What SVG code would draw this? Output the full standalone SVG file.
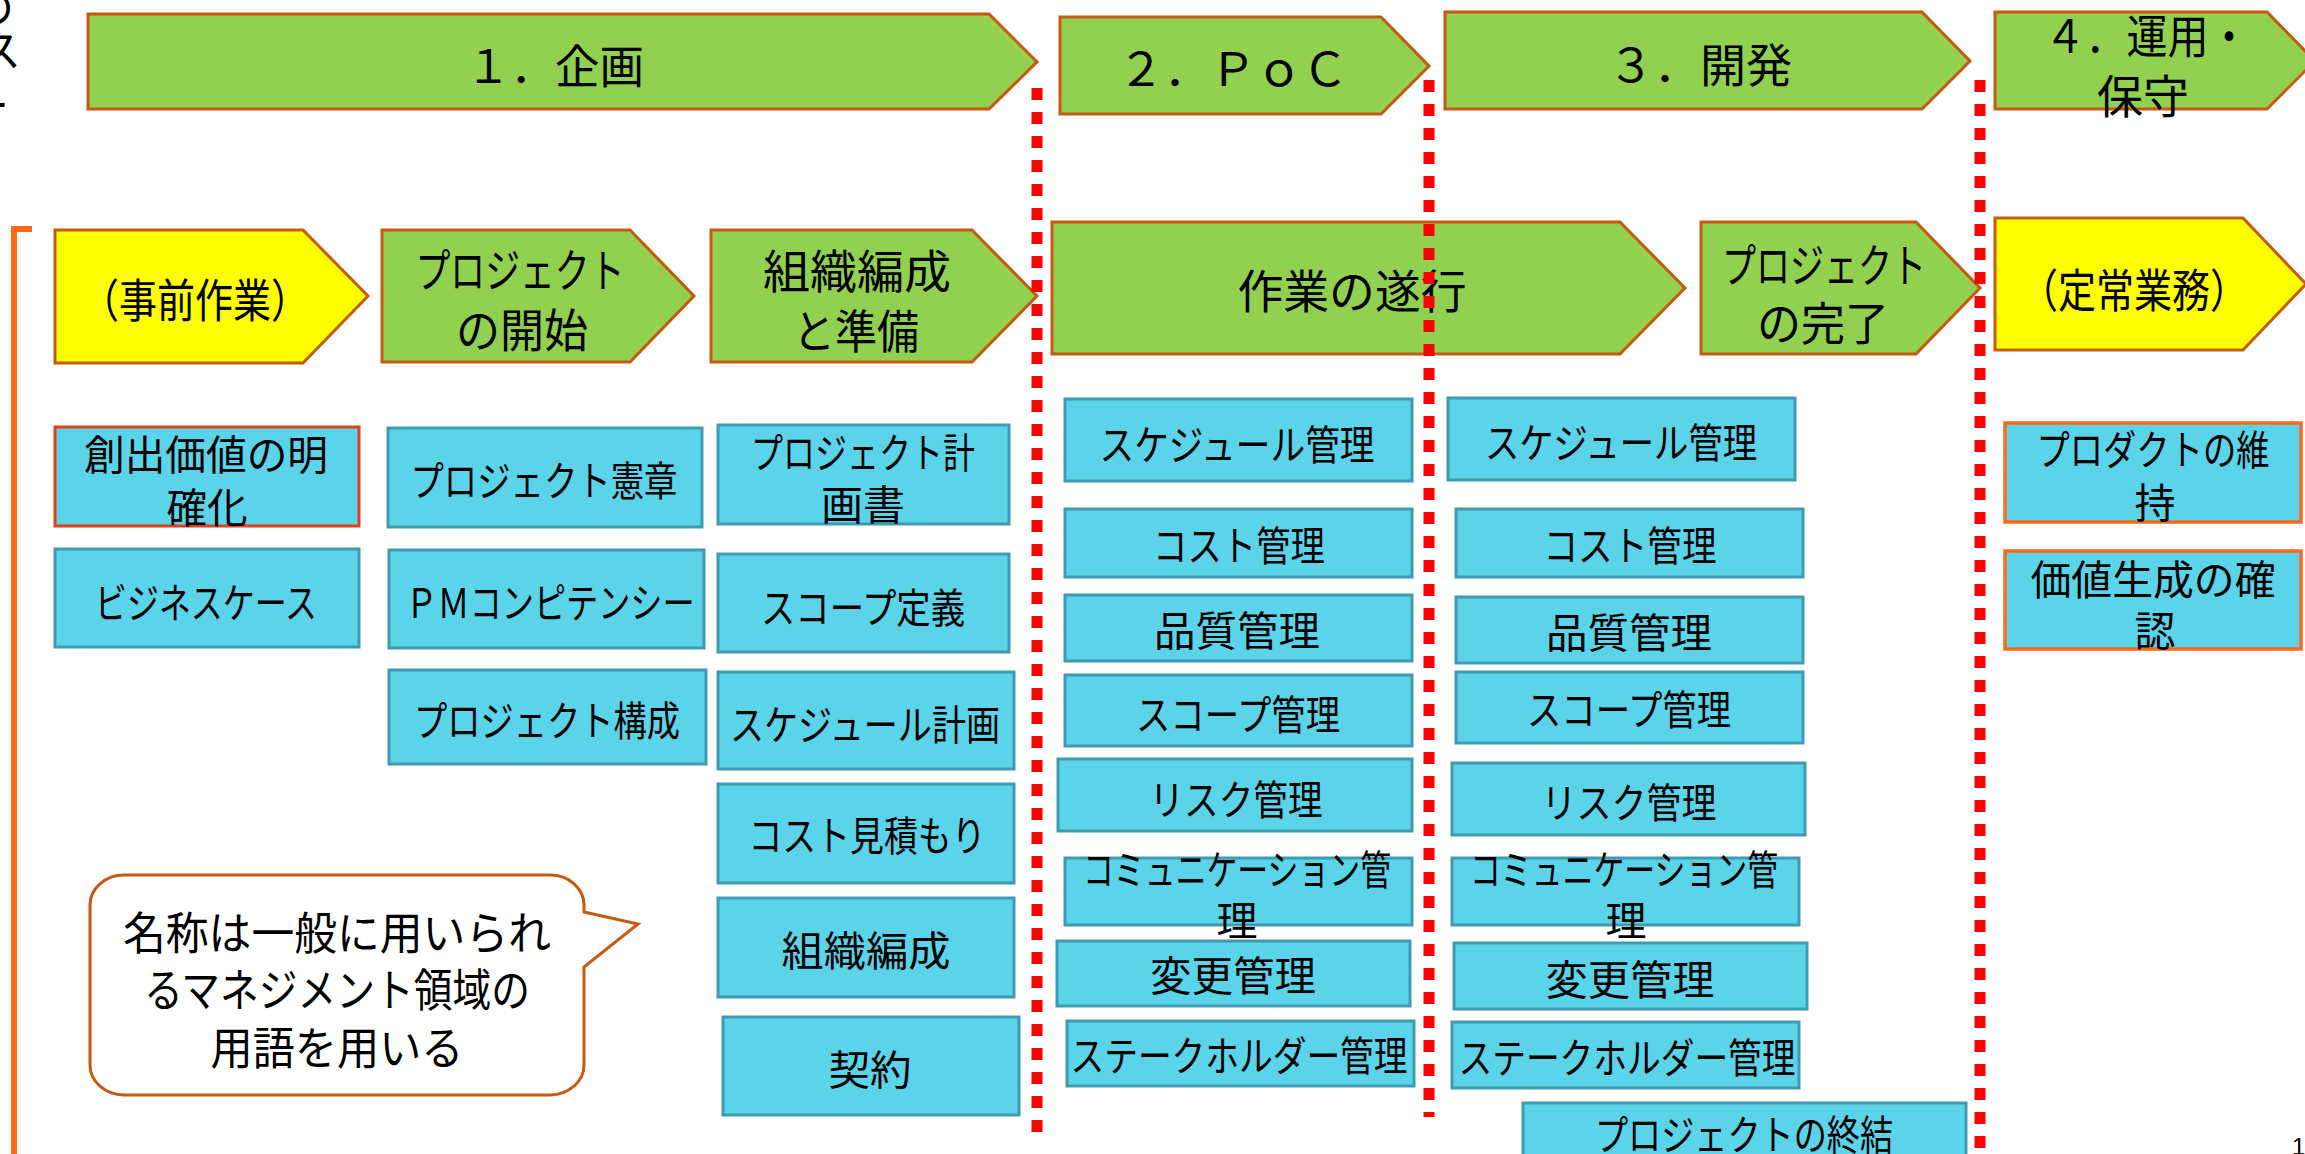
<svg xmlns="http://www.w3.org/2000/svg" width="2305" height="1154" viewBox="0 0 2305 1154">
<style>
.t{font-family:"Noto Sans CJK JP","Noto Sans CJK SC",sans-serif;fill:#000;text-anchor:middle;dominant-baseline:central;}
.big{font-size:46px;}
.bx{font-size:41px;}
.co{font-size:45px;}
.ga{fill:#92D050;stroke:#C55A11;stroke-width:3;}
.ya{fill:#FFFF00;stroke:#C55A11;stroke-width:3;}
.bb{fill:#5BD3E9;stroke:#3E9BB0;stroke-width:3;}
.ob{fill:#5BD3E9;stroke:#FF6A1A;stroke-width:3.5;}
.rb{fill:#5BD3E9;stroke:#E0401C;stroke-width:3;}
.div{stroke:#FF0000;stroke-width:11;stroke-dasharray:12 12;fill:none;}
</style>
<rect width="2305" height="1154" fill="#FFFFFF"/>

<g id="edge-text" class="t" style="font-size:44px;text-anchor:end">
<text x="14" y="5">の</text>
<text x="21" y="48">ス</text>
<text x="9" y="103">ー</text>
</g>
<text id="page-number" x="2292" y="1155" style="font-family:'Liberation Sans',Arial,sans-serif;font-size:24px;fill:#000">19</text>

<path id="bracket" d="M32,229 H14 V1160" fill="none" stroke="#FF6A13" stroke-width="6"/>

<g id="phase-1">
<polygon class="ga" points="88,14 989,14 1037,62 989,109 88,109"/>
<text class="t big" x="555" y="63" textLength="178" lengthAdjust="spacingAndGlyphs">１．企画</text>
</g>
<g id="phase-2">
<polygon class="ga" points="1060,17 1381,17 1429,66 1381,114 1060,114"/>
<text class="t big" x="1233" y="66">２．ＰｏＣ</text>
</g>
<g id="phase-3">
<polygon class="ga" points="1445,12 1922,12 1970,61 1922,109 1445,109"/>
<text class="t big" x="1700" y="62">３．開発</text>
</g>
<g id="phase-4">
<polygon class="ga" points="1995,12 2267,12 2315,61 2267,109 1995,109"/>
<text class="t big" x="2147" y="33" textLength="205" lengthAdjust="spacingAndGlyphs">４．運用・</text>
<text class="t big" x="2143" y="93">保守</text>
</g>

<g id="step-pre">
<polygon class="ya" points="55,230 303,230 368,296 303,363 55,363"/>
<text class="t big" x="195" y="297" textLength="228" lengthAdjust="spacingAndGlyphs">（事前作業）</text>
</g>
<g id="step-start">
<polygon class="ga" points="382,230 630,230 694,296 630,362 382,362"/>
<text class="t big" x="520" y="267" textLength="209" lengthAdjust="spacingAndGlyphs">プロジェクト</text>
<text class="t big" x="522" y="327" textLength="132" lengthAdjust="spacingAndGlyphs">の開始</text>
</g>
<g id="step-org">
<polygon class="ga" points="711,230 972,230 1037,296 972,362 711,362"/>
<text class="t big" x="857" y="268" textLength="188" lengthAdjust="spacingAndGlyphs">組織編成</text>
<text class="t big" x="856" y="328" textLength="126" lengthAdjust="spacingAndGlyphs">と準備</text>
</g>
<g id="step-exec">
<polygon class="ga" points="1052,222 1620,222 1685,288 1620,354 1052,354"/>
<text class="t big" x="1352" y="288" textLength="229" lengthAdjust="spacingAndGlyphs">作業の遂行</text>
</g>
<g id="step-close">
<polygon class="ga" points="1701,222 1916,222 1980,288 1916,354 1701,354"/>
<text class="t big" x="1824" y="262" textLength="204" lengthAdjust="spacingAndGlyphs">プロジェクト</text>
<text class="t big" x="1823" y="320" textLength="132" lengthAdjust="spacingAndGlyphs">の完了</text>
</g>
<g id="step-ops">
<polygon class="ya" points="1995,218 2243,218 2306,284 2243,350 1995,350"/>
<text class="t big" x="2134" y="287" textLength="228" lengthAdjust="spacingAndGlyphs">（定常業務）</text>
</g>

<g id="box-value">
<rect class="rb" x="55" y="427" width="304" height="99"/>
<text class="t bx" x="206" y="452" textLength="244" lengthAdjust="spacingAndGlyphs">創出価値の明</text>
<text class="t bx" x="207" y="505" textLength="81" lengthAdjust="spacingAndGlyphs">確化</text>
</g>
<g id="box-bizcase">
<rect class="bb" x="55" y="549" width="304" height="98"/>
<text class="t bx" x="206" y="600" textLength="222" lengthAdjust="spacingAndGlyphs">ビジネスケース</text>
</g>
<g id="box-charter">
<rect class="bb" x="388" y="428" width="314" height="99"/>
<text class="t bx" x="544" y="478" textLength="267" lengthAdjust="spacingAndGlyphs">プロジェクト憲章</text>
</g>
<g id="box-pmcomp">
<rect class="bb" x="389" y="550" width="315" height="98"/>
<text class="t bx" x="550" y="600" textLength="289" lengthAdjust="spacingAndGlyphs">ＰＭコンピテンシー</text>
</g>
<g id="box-structure">
<rect class="bb" x="389" y="670" width="317" height="94"/>
<text class="t bx" x="547" y="718" textLength="266" lengthAdjust="spacingAndGlyphs">プロジェクト構成</text>
</g>
<g id="box-plan">
<rect class="bb" x="718" y="425" width="291" height="99"/>
<text class="t bx" x="863" y="450" textLength="224" lengthAdjust="spacingAndGlyphs">プロジェクト計</text>
<text class="t bx" x="863" y="502" textLength="84" lengthAdjust="spacingAndGlyphs">画書</text>
</g>
<g id="box-scope-def">
<rect class="bb" x="718" y="554" width="291" height="98"/>
<text class="t bx" x="863" y="605" textLength="204" lengthAdjust="spacingAndGlyphs">スコープ定義</text>
</g>
<g id="box-sched-plan">
<rect class="bb" x="718" y="672" width="296" height="97"/>
<text class="t bx" x="865" y="722" textLength="270" lengthAdjust="spacingAndGlyphs">スケジュール計画</text>
</g>
<g id="box-cost-est">
<rect class="bb" x="718" y="784" width="296" height="99"/>
<text class="t bx" x="867" y="833" textLength="237" lengthAdjust="spacingAndGlyphs">コスト見積もり</text>
</g>
<g id="box-org">
<rect class="bb" x="718" y="898" width="296" height="99"/>
<text class="t bx" x="866" y="948" textLength="169" lengthAdjust="spacingAndGlyphs">組織編成</text>
</g>
<g id="box-contract">
<rect class="bb" x="723" y="1017" width="296" height="98"/>
<text class="t bx" x="870" y="1067" textLength="83" lengthAdjust="spacingAndGlyphs">契約</text>
</g>

<g id="callout">
<path d="M124,875 H550 A34,30 0 0 1 584,905 V912 L638,924 L584,967 V1065 A34,30 0 0 1 550,1095 H124 A34,30 0 0 1 90,1065 V905 A34,30 0 0 1 124,875 Z" fill="#FFFFFF" stroke="#C55A11" stroke-width="3"/>
<text class="t co" x="337" y="930" textLength="428" lengthAdjust="spacingAndGlyphs">名称は一般に用いられ</text>
<text class="t co" x="337" y="987" textLength="386" lengthAdjust="spacingAndGlyphs">るマネジメント領域の</text>
<text class="t co" x="337" y="1045" textLength="253" lengthAdjust="spacingAndGlyphs">用語を用いる</text>
</g>

<g id="poc-sched">
<rect class="bb" x="1065" y="399" width="347" height="82"/>
<text class="t bx" x="1237" y="442" textLength="275" lengthAdjust="spacingAndGlyphs">スケジュール管理</text>
</g>
<g id="poc-cost">
<rect class="bb" x="1065" y="509" width="347" height="68"/>
<text class="t bx" x="1239" y="543" textLength="172" lengthAdjust="spacingAndGlyphs">コスト管理</text>
</g>
<g id="poc-quality">
<rect class="bb" x="1065" y="595" width="347" height="66"/>
<text class="t bx" x="1237" y="628" textLength="166" lengthAdjust="spacingAndGlyphs">品質管理</text>
</g>
<g id="poc-scope">
<rect class="bb" x="1065" y="675" width="347" height="71"/>
<text class="t bx" x="1238" y="712" textLength="204" lengthAdjust="spacingAndGlyphs">スコープ管理</text>
</g>
<g id="poc-risk">
<rect class="bb" x="1058" y="759" width="354" height="72"/>
<text class="t bx" x="1236" y="797" textLength="173" lengthAdjust="spacingAndGlyphs">リスク管理</text>
</g>
<g id="poc-comm">
<rect class="bb" x="1065" y="858" width="347" height="67"/>
<text class="t bx" x="1237" y="867" textLength="308" lengthAdjust="spacingAndGlyphs">コミュニケーション管</text>
<text class="t bx" x="1237" y="918">理</text>
</g>
<g id="poc-change">
<rect class="bb" x="1057" y="941" width="353" height="65"/>
<text class="t bx" x="1233" y="973" textLength="166" lengthAdjust="spacingAndGlyphs">変更管理</text>
</g>
<g id="poc-stake">
<rect class="bb" x="1067" y="1021" width="347" height="65"/>
<text class="t bx" x="1239" y="1053" textLength="337" lengthAdjust="spacingAndGlyphs">ステークホルダー管理</text>
</g>

<g id="dev-sched">
<rect class="bb" x="1448" y="398" width="347" height="82"/>
<text class="t bx" x="1621" y="440" textLength="272" lengthAdjust="spacingAndGlyphs">スケジュール管理</text>
</g>
<g id="dev-cost">
<rect class="bb" x="1456" y="509" width="347" height="68"/>
<text class="t bx" x="1630" y="543" textLength="173" lengthAdjust="spacingAndGlyphs">コスト管理</text>
</g>
<g id="dev-quality">
<rect class="bb" x="1456" y="597" width="347" height="66"/>
<text class="t bx" x="1629" y="630" textLength="166" lengthAdjust="spacingAndGlyphs">品質管理</text>
</g>
<g id="dev-scope">
<rect class="bb" x="1456" y="672" width="347" height="71"/>
<text class="t bx" x="1629" y="707" textLength="204" lengthAdjust="spacingAndGlyphs">スコープ管理</text>
</g>
<g id="dev-risk">
<rect class="bb" x="1452" y="763" width="353" height="72"/>
<text class="t bx" x="1629" y="800" textLength="175" lengthAdjust="spacingAndGlyphs">リスク管理</text>
</g>
<g id="dev-comm">
<rect class="bb" x="1452" y="858" width="347" height="67"/>
<text class="t bx" x="1624" y="867" textLength="308" lengthAdjust="spacingAndGlyphs">コミュニケーション管</text>
<text class="t bx" x="1626" y="918">理</text>
</g>
<g id="dev-change">
<rect class="bb" x="1454" y="943" width="353" height="66"/>
<text class="t bx" x="1630" y="977" textLength="169" lengthAdjust="spacingAndGlyphs">変更管理</text>
</g>
<g id="dev-stake">
<rect class="bb" x="1452" y="1022" width="347" height="66"/>
<text class="t bx" x="1627" y="1055" textLength="337" lengthAdjust="spacingAndGlyphs">ステークホルダー管理</text>
</g>
<g id="dev-closure">
<rect class="bb" x="1523" y="1103" width="443" height="70"/>
<text class="t bx" x="1744" y="1132" textLength="298" lengthAdjust="spacingAndGlyphs">プロジェクトの終結</text>
</g>

<g id="ops-maintain">
<rect class="ob" x="2005" y="423" width="296" height="99"/>
<text class="t bx" x="2153" y="447" textLength="233" lengthAdjust="spacingAndGlyphs">プロダクトの維</text>
<text class="t bx" x="2155" y="500">持</text>
</g>
<g id="ops-value">
<rect class="ob" x="2005" y="551" width="296" height="98"/>
<text class="t bx" x="2153" y="577" textLength="245" lengthAdjust="spacingAndGlyphs">価値生成の確</text>
<text class="t bx" x="2155" y="628">認</text>
</g>

<g id="connectors">
<line class="div" x1="1037" y1="88" x2="1037" y2="1132"/>
<line class="div" x1="1429" y1="80" x2="1429" y2="1117"/>
<line class="div" x1="1980" y1="80" x2="1980" y2="1160"/>
</g>
</svg>
